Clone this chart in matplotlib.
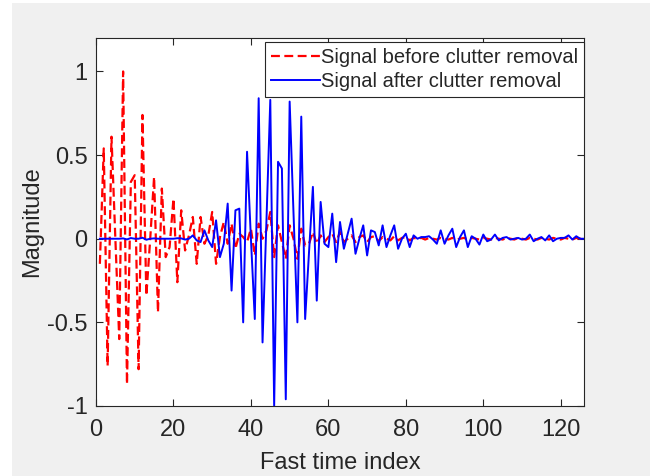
import numpy as np
import matplotlib
matplotlib.use("Agg")
import matplotlib.pyplot as plt
from matplotlib.patches import Rectangle

plt.rcParams['font.family'] = ['Liberation Sans', 'DejaVu Sans']

# received signal per fast-time sample, before clutter removal
before = [
    -0.15, 0.54, -0.76, 0.61, 0.00, -0.60, 1.00, -0.87, 0.34, 0.38,
    -0.78, 0.74, -0.34, 0.00, 0.37, -0.44, 0.30, -0.11, -0.05, 0.24,
    -0.26, 0.17, -0.07, 0.02, 0.13, -0.15, 0.13, -0.03, 0.02, 0.16,
    -0.15, 0.01, 0.10, -0.03, 0.09, -0.06, 0.03, 0.01, -0.02, 0.06,
    -0.10, 0.09, 0.00, 0.05, 0.16, -0.11, 0.08, -0.02, -0.12, 0.08,
    0.00, -0.12, 0.06, -0.04, -0.03, 0.04, -0.03, 0.02, -0.02, 0.01,
    0.03, -0.02, 0.04, -0.02, 0.00, 0.02, -0.02, 0.01, 0.02, -0.02,
    0.01, 0.015, -0.015, 0.01, 0.00, -0.01, 0.015, -0.01, 0.005, 0.01,
    -0.01, 0.005, 0.00, 0.005, -0.005, 0.005, 0.00, -0.005, 0.005, 0.00,
    -0.005, 0.005, -0.005, 0.00, 0.005, -0.005, 0.005, 0.00, -0.005, 0.005,
    0.00, -0.005, 0.005, 0.00, -0.005, 0.005, 0.00, -0.005, 0.005, 0.00,
    -0.005, 0.005, 0.00, -0.005, 0.005, 0.00, -0.005, 0.005, 0.00, -0.005,
    0.005, 0.00, -0.005, 0.005, 0.00, 0.00,
]

# same samples after clutter removal
after = [
    0.00, 0.00, 0.00, 0.00, 0.00, 0.00, 0.002, -0.004, 0.004, 0.00,
    0.00, 0.006, -0.006, 0.00, 0.002, 0.00, 0.00, 0.00, 0.00, 0.00,
    0.003, 0.002, -0.005, 0.00, 0.02, -0.01, -0.02, 0.05, -0.01, -0.05,
    0.11, -0.11, -0.03, 0.21, -0.31, 0.17, 0.18, -0.50, 0.52, 0.00,
    -0.48, 0.84, -0.62, 0.10, 0.83, -1.00, 0.46, 0.42, -0.96, 0.82,
    0.15, -0.50, 0.73, -0.48, -0.08, 0.31, -0.37, 0.22, -0.03, -0.05,
    0.15, -0.14, 0.10, -0.06, 0.03, 0.12, -0.09, 0.00, 0.08, -0.10,
    0.05, 0.04, -0.04, 0.08, -0.05, 0.02, 0.08, -0.06, 0.00, 0.03,
    -0.05, 0.02, 0.00, 0.01, 0.01, 0.015, -0.005, -0.03, 0.05, -0.03,
    0.02, 0.06, -0.05, 0.01, 0.05, -0.05, 0.015, 0.00, -0.035, 0.025,
    -0.015, -0.005, 0.025, -0.01, 0.005, 0.01, -0.005, 0.00, 0.005, -0.005,
    0.00, 0.025, -0.015, 0.00, 0.01, -0.01, 0.02, -0.015, 0.00, 0.005,
    0.005, 0.02, -0.005, 0.015, 0.00, 0.00,
]

idx = np.arange(1, len(before) + 1)
x_ticks = [0, 20, 40, 60, 80, 100, 120]
y_ticks = [-1, -0.5, 0, 0.5, 1]
y_tick_labels = ['-1', '-0.5', '0', '0.5', '1']

dark = '#262626'

fig = plt.figure(figsize=(6.5, 4.76), dpi=100)
fig.patch.set_facecolor('#f0f0f0')
# thin white margin on the left and top of the window
fig.add_artist(Rectangle((0, 0), 12 / 650, 1, transform=fig.transFigure,
                         facecolor='white', edgecolor='none', zorder=-1))
fig.add_artist(Rectangle((0, 1 - 3 / 476), 1, 3 / 476, transform=fig.transFigure,
                         facecolor='white', edgecolor='none', zorder=-1))

ax = fig.add_axes([96 / 650, 70 / 476, 488 / 650, 368 / 476])
ax.set_facecolor('white')

ax.plot(idx, before, color='red', linestyle=(0, (4, 2)), linewidth=1.6,
        label='Signal before clutter removal')
ax.plot(idx, after, color='blue', linewidth=1.4,
        label='Signal after clutter removal')

ax.set_xlim(0, 126)
ax.set_ylim(-1, 1.2)
ax.set_xticks(x_ticks)
ax.set_yticks(y_ticks)
ax.set_yticklabels(y_tick_labels)

ax.tick_params(direction='in', length=5, width=0.8, top=True, right=True,
               colors=dark, labelsize=17, labelcolor=dark)
ax.tick_params(axis='x', pad=9)
ax.tick_params(axis='y', pad=6)
for s in ax.spines.values():
    s.set_color(dark)
    s.set_linewidth(0.8)

ax.set_xlabel('Fast time index', fontsize=17, color=dark, labelpad=8)
ax.set_ylabel('Magnitude', fontsize=17, color=dark, labelpad=3)

leg = ax.legend(loc='upper right', bbox_to_anchor=(1.0, 1 - 4 / 368),
                borderaxespad=0, fontsize=14.5, fancybox=False, framealpha=1,
                edgecolor=dark, handlelength=2.4, handletextpad=0.05,
                borderpad=0.3, labelspacing=0.25)
leg.get_frame().set_linewidth(0.8)
for t in leg.get_texts():
    t.set_color(dark)

fig.savefig('out.png', dpi=100, facecolor=fig.get_facecolor())
